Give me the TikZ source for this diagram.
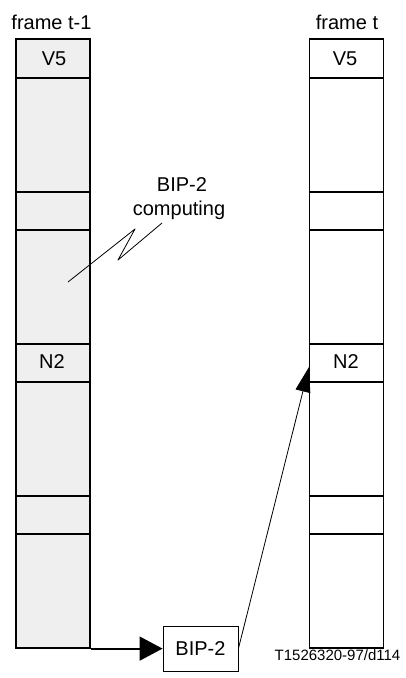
\documentclass[tikz,border=0pt]{standalone}
\usepackage{fontspec}
\setmainfont{Liberation Sans}
\usetikzlibrary{arrows.meta}
\definecolor{slotgray}{RGB}{239,239,239}

\begin{document}
\begin{tikzpicture}[x=1pt,y=-1pt,
  lbl/.style={anchor=base, inner sep=0pt, font=\fontsize{20}{24}\selectfont},
  tag/.style={anchor=base, inner sep=0pt, font=\fontsize{15}{18}\selectfont},
  frm/.style={draw, line width=1.2pt, minimum width=74pt, minimum height=609pt, inner sep=0pt},
  rowline/.style={line width=2pt},
  bipbox/.style={draw, line width=0.9pt, minimum width=75pt, minimum height=45pt, inner sep=0pt, font=\fontsize{20}{24}\selectfont}]
\useasboundingbox (0,0) rectangle (406,678);
% the two frames
\node[frm, fill=slotgray] (frameA) at (53,343.5) {};
\node[frm] (frameB) at (346.5,343.5) {};
\foreach \yy in {78,192,230,344,382,496,534} {
  \draw[rowline] (frameA.west |- 0,\yy) -- (frameA.east |- 0,\yy);
  \draw[rowline] (frameB.west |- 0,\yy) -- (frameB.east |- 0,\yy);
}
\node[lbl] (ttlA) at (51.5,29) {frame t-1};
\node[lbl] (ttlB) at (347,29) {frame t};
\node[lbl] (vA) at (54,65) {V5};
\node[lbl] (vB) at (345,65) {V5};
\node[lbl] (nA) at (52,368) {N2};
\node[lbl] (nB) at (346,368) {N2};
% parity computation
\node[lbl] (calcA) at (182,191) {BIP-2};
\node[lbl] (calcB) at (179,215) {computing};
\coordinate (zapA) at (68,282);
\coordinate (zapB) at (135,229);
\coordinate (zapC) at (118,260);
\coordinate (zapD) at (162,223);
\draw[line width=0.8pt, line join=round] (zapA) -- (zapB) -- (zapC) -- (zapD);
\node[bipbox] (bip) at (200.5,648.5) {BIP-2};
\coordinate (hitN2) at (309,367);
\draw[line width=1.8pt, -{Triangle[length=23pt,width=24pt]}] (frameA.south east) -- (frameA.south east -| bip.west);
\draw[line width=0.8pt, -{Triangle[length=25pt,width=15pt]}] (bip.east) -- (hitN2);
\node[tag] (figno) at (337.5,660) {T1526320-97/d114};
\end{tikzpicture}
\end{document}
